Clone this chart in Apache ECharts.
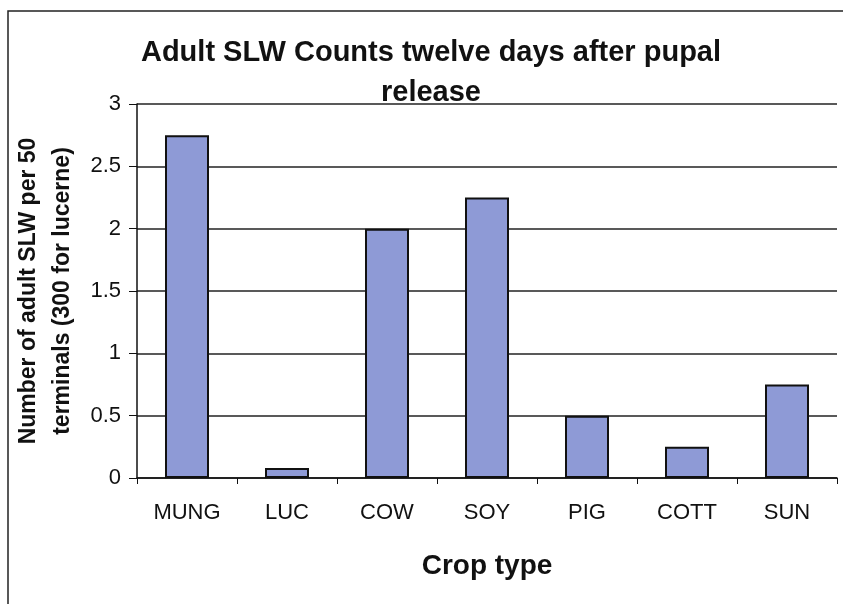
<!DOCTYPE html>
<html>
<head>
<meta charset="utf-8">
<script src="https://cdn.jsdelivr.net/npm/echarts@6/dist/echarts.min.js"></script>
<style>
  html, body { margin: 0; padding: 0; background: #fff; }
  #main { width: 843px; height: 604px; }
</style>
</head>
<body>
<div id="main"></div>
<script>
// crop categories and adult SLW counts
const categories = ['MUNG', 'LUC', 'COW', 'SOY', 'PIG', 'COTT', 'SUN'];
const slwCounts = [2.75, 0.08, 2.0, 2.25, 0.5, 0.25, 0.75];
const yTicks = [0, 0.5, 1, 1.5, 2, 2.5, 3];

const chart = echarts.init(document.getElementById('main'));

const option = {
  backgroundColor: '#ffffff',
  animation: false,
  textStyle: { fontFamily: 'Liberation Sans, Arial, sans-serif' },
  title: {
    text: 'Adult SLW Counts twelve days after pupal\nrelease',
    left: 426,
    top: 28,
    textAlign: 'center',
    textStyle: {
      fontSize: 29,
      fontWeight: 'bold',
      color: '#111',
      lineHeight: 40
    }
  },
  graphic: [{
    // outer chart frame (only left and top edges visible)
    type: 'polyline',
    shape: { points: [[8, 604], [8, 11], [843, 11]] },
    style: { stroke: '#222', lineWidth: 1.5, fill: null },
    silent: true
  }],
  grid: {
    left: 137,
    right: 6,
    top: 104,
    bottom: 126,
    containLabel: false,
    outerBoundsMode: 'none'
  },
  xAxis: {
    type: 'category',
    data: categories,
    name: 'Crop type',
    nameLocation: 'middle',
    nameGap: 74,
    nameTextStyle: { fontSize: 28, fontWeight: 'bold', color: '#111' },
    axisLine: { lineStyle: { color: '#111', width: 1.5 } },
    axisTick: { show: true, alignWithLabel: false, length: 6, lineStyle: { color: '#111' } },
    axisLabel: { fontSize: 22, color: '#111', margin: 24 }
  },
  yAxis: {
    type: 'value',
    min: yTicks[0],
    max: yTicks[yTicks.length - 1],
    interval: 0.5,
    name: 'Number of adult SLW per 50\nterminals (300 for lucerne)',
    nameLocation: 'middle',
    nameGap: 57,
    nameTextStyle: { fontSize: 23, fontWeight: 'bold', color: '#111', lineHeight: 34 },
    axisLine: { show: true, lineStyle: { color: '#111', width: 1.5 } },
    axisTick: { show: true, inside: false, length: 8, lineStyle: { color: '#111' } },
    axisLabel: { fontSize: 22, color: '#111', margin: 16 },
    splitLine: { show: true, lineStyle: { color: '#222', width: 1.5 } }
  },
  series: [{
    type: 'bar',
    data: slwCounts,
    barWidth: '44%',
    itemStyle: {
      color: '#8E9AD6',
      borderColor: '#111',
      borderWidth: 2
    }
  }]
};

chart.setOption(option);
</script>
</body>
</html>
